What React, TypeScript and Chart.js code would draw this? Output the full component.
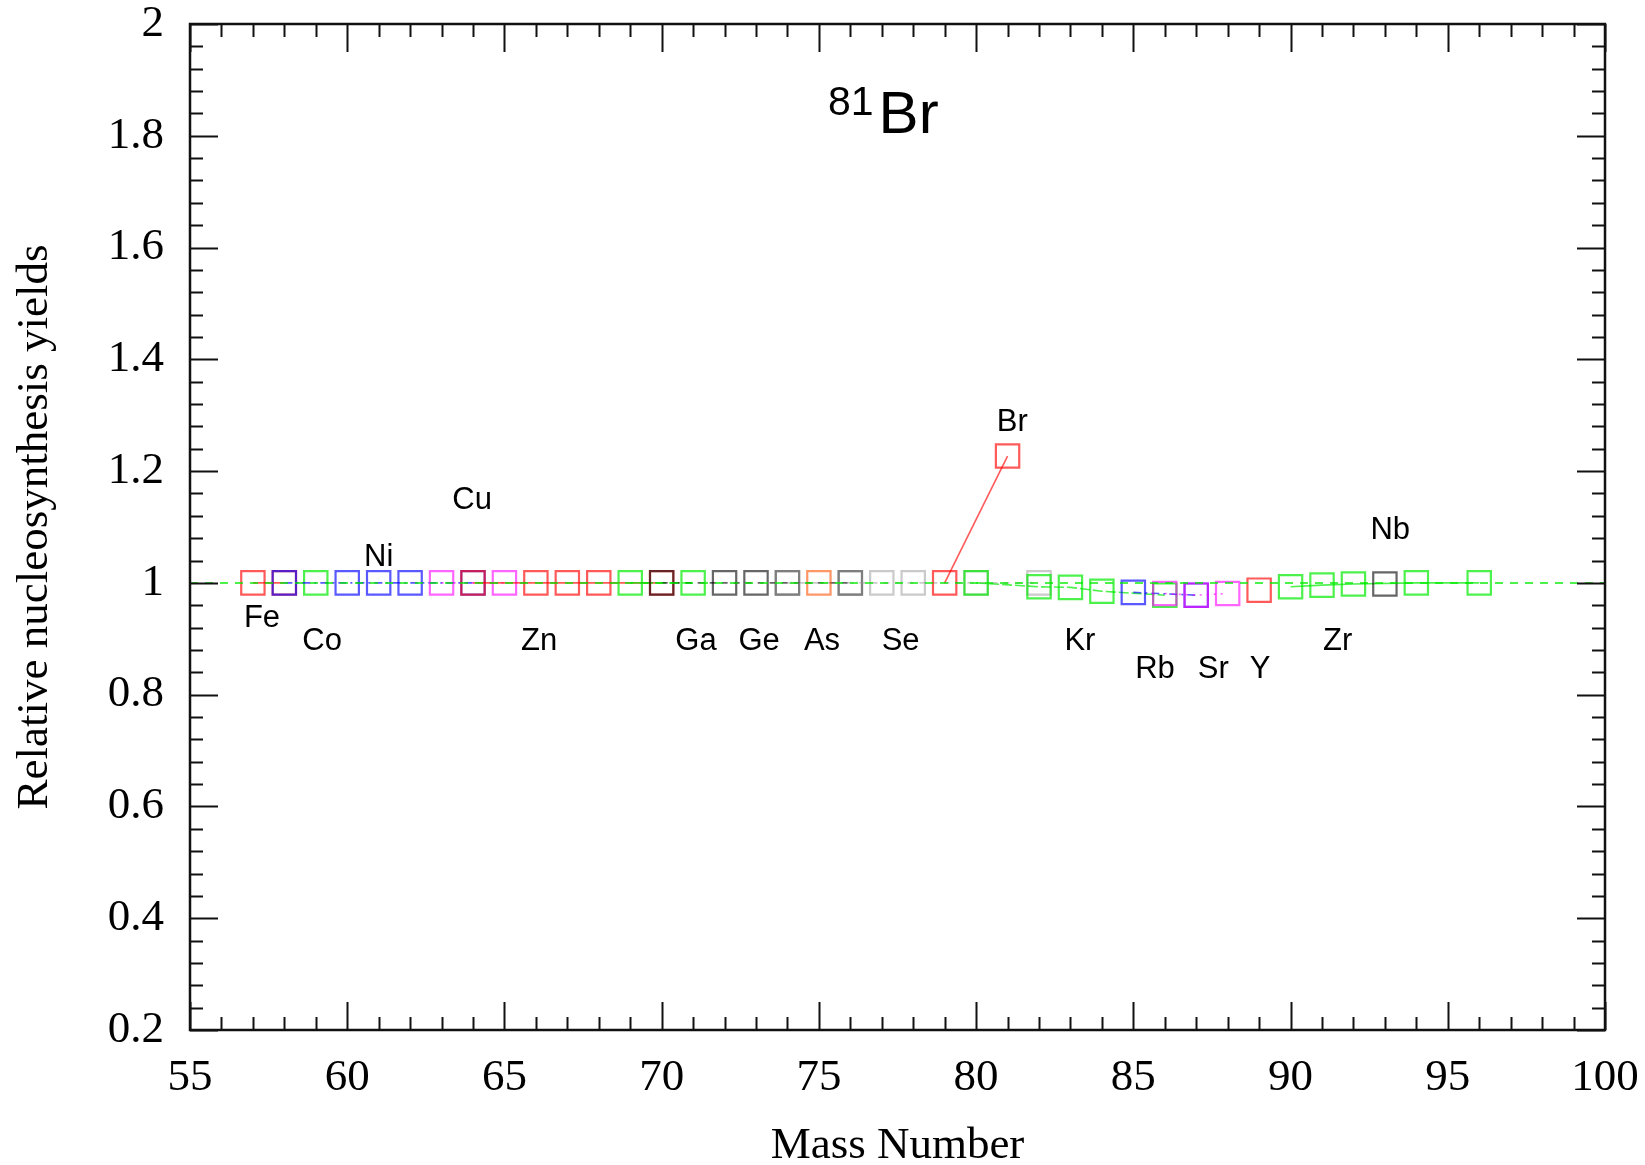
import React, { useEffect, useRef } from "react";
import { Chart, registerables } from "chart.js";

Chart.register(...registerables);

// ---------- data ----------
const lineY = 1.0;

const feMass = [57, 58];
const feYield = [1.0, 1.0];
const coMass = [59];
const coYield = [1.0];
const niMass = [58, 60, 61, 62, 64];
const niYield = [1.0, 1.0, 1.0, 1.0, 1.0];
const cuMass = [63, 65];
const cuYield = [1.0, 1.0];
const znMass = [64, 66, 67, 68, 70];
const znYield = [1.0, 1.0, 1.0, 1.0, 1.0];
const gaMass = [69, 71];
const gaYield = [1.0, 1.0];
const geMass = [70, 72, 73, 74, 76];
const geYield = [1.0, 1.0, 1.0, 1.0, 1.0];
const asMass = [75];
const asYield = [1.0];
const seMass = [74, 76, 77, 78, 80, 82];
const seYield = [1.0, 1.0, 1.0, 1.0, 1.0, 1.0];
const brMass = [79, 81];
const brYield = [1.0, 1.227];
const krMass = [80, 82, 83, 84, 86];
const krYield = [1.0, 0.993, 0.992, 0.985, 0.978];
const rbMass = [85, 87];
const rbYield = [0.983, 0.978];
const srMass = [86, 87, 88];
const srYield = [0.981, 0.978, 0.981];
const yMass = [89];
const yYield = [0.987];
const zrMass = [90, 91, 92, 94, 96];
const zrYield = [0.993, 0.996, 0.998, 1.0, 1.0];
const nbMass = [93];
const nbYield = [0.998];

const labelNames = ["Fe", "Co", "Ni", "Cu", "Zn", "Ga", "Ge", "As", "Se", "Br", "Kr", "Rb", "Sr", "Y", "Zr", "Nb"];
const labelX = [57.29, 59.2, 61.0, 63.97, 66.1, 71.09, 73.1, 75.1, 77.6, 81.15, 83.3, 85.69, 87.54, 89.03, 91.5, 93.17];
const labelY = [0.936, 0.895, 1.045, 1.147, 0.895, 0.895, 0.895, 0.895, 0.895, 1.287, 0.895, 0.846, 0.846, 0.846, 0.896, 1.094];

const titleIsotope = "81";
const titleElement = "Br";
const titleX = 75.29;
const titleY = 1.805;
const xTitle = "Mass Number";
const yTitle = "Relative nucleosynthesis yields";

const xMin = 55, xMax = 100, yMin = 0.2, yMax = 2;

// ---------- styles ----------
const RED = "rgba(255,0,0,0.65)";
const GREEN = "rgba(0,235,0,0.7)";
const BLUE = "rgba(0,0,255,0.65)";
const MAGENTA = "rgba(255,0,255,0.6)";
const BLACK = "rgba(0,0,0,0.6)";
const GRAY = "rgba(150,150,150,0.5)";
const ORANGE = "rgba(255,80,0,0.6)";
const SERIF = "'Liberation Serif', 'Times New Roman', serif";
const SANS = "'Liberation Sans', Arial, sans-serif";

const pts = (xs: number[], ys: number[]) => xs.map((x, i) => ({ x, y: ys[i] }));

function el(label: string, xs: number[], ys: number[], color: string, dash: number[]) {
  return {
    label,
    data: pts(xs, ys),
    showLine: true,
    borderColor: color,
    borderWidth: 1.6,
    borderDash: dash,
    pointStyle: "rect",
    pointRadius: 16.5,
    pointHoverRadius: 16.5,
    pointBorderWidth: 2.2,
    pointBorderColor: color,
    pointBackgroundColor: "rgba(0,0,0,0)",
    fill: false,
    tension: 0,
  };
}

const frameTicks = {
  id: "frameTicks",
  afterDatasetsDraw(chart: any) {
    const { ctx, chartArea: a, scales } = chart;
    const xs = scales.x, ys = scales.y;
    ctx.save();
    ctx.strokeStyle = "#111";
    ctx.lineWidth = 2;
    ctx.beginPath();
    for (let v = xMin; v <= xMax + 1e-9; v += 1) {
      const len = Math.round(v) % 5 === 0 ? 28 : 13;
      const px = Math.round(xs.getPixelForValue(v)) + 0.5;
      ctx.moveTo(px, a.bottom);
      ctx.lineTo(px, a.bottom - len);
      ctx.moveTo(px, a.top);
      ctx.lineTo(px, a.top + len);
    }
    for (let i = 0; i <= 45; i++) {
      const v = yMin + i * 0.04;
      const len = i % 5 === 0 ? 28 : 13;
      const py = Math.round(ys.getPixelForValue(v)) + 0.5;
      ctx.moveTo(a.left, py);
      ctx.lineTo(a.left + len, py);
      ctx.moveTo(a.right, py);
      ctx.lineTo(a.right - len, py);
    }
    ctx.stroke();
    ctx.lineWidth = 2.5;
    ctx.strokeRect(a.left, a.top, a.right - a.left, a.bottom - a.top);

    // element labels
    ctx.fillStyle = "#000";
    ctx.font = "31px " + SANS;
    ctx.textAlign = "center";
    ctx.textBaseline = "middle";
    labelNames.forEach((n, i) => {
      ctx.fillText(n, xs.getPixelForValue(labelX[i]), ys.getPixelForValue(labelY[i]));
    });

    // title with superscript
    const tx = xs.getPixelForValue(titleX);
    const base = ys.getPixelForValue(titleY);
    ctx.textBaseline = "alphabetic";
    ctx.textAlign = "left";
    ctx.font = "41px " + SANS;
    const w81 = ctx.measureText(titleIsotope).width;
    ctx.fillText(titleIsotope, tx, base - 18);
    ctx.font = "60px " + SANS;
    ctx.fillText(titleElement, tx + w81 + 5, base);

    // axis titles
    ctx.font = "45px " + SERIF;
    ctx.textAlign = "center";
    ctx.textBaseline = "alphabetic";
    ctx.fillText(xTitle, (a.left + a.right) / 2, a.bottom + 128);
    ctx.translate(a.left - 143, (a.top + a.bottom) / 2);
    ctx.rotate(-Math.PI / 2);
    ctx.fillText(yTitle, 0, 0);
    ctx.restore();
  },
};

export default function App() {
  const ref = useRef<HTMLCanvasElement | null>(null);
  useEffect(() => {
    if (!ref.current) return;
    const chart = new Chart(ref.current, {
      type: "scatter",
      data: {
        datasets: [
          {
            label: "ref",
            data: [{ x: xMin, y: lineY }, { x: xMax, y: lineY }],
            showLine: true,
            borderColor: GREEN,
            borderWidth: 2,
            borderDash: [8, 7],
            pointRadius: 0,
            fill: false,
          } as any,
          el("Br", brMass, brYield, RED, []),
          el("Nb", nbMass, nbYield, BLACK, []),
          el("Zr", zrMass, zrYield, GREEN, []),
          el("Y", yMass, yYield, RED, []),
          el("Sr", srMass, srYield, MAGENTA, [2, 5]),
          el("Rb", rbMass, rbYield, BLUE, [8, 4, 2, 4]),
          el("Kr", krMass, krYield, GREEN, [10, 3]),
          el("Se", seMass, seYield, GRAY, [6, 6]),
          el("As", asMass, asYield, ORANGE, []),
          el("Ge", geMass, geYield, BLACK, [6, 6]),
          el("Ga", gaMass, gaYield, GREEN, [10, 3]),
          el("Zn", znMass, znYield, RED, []),
          el("Cu", cuMass, cuYield, MAGENTA, [2, 4]),
          el("Ni", niMass, niYield, BLUE, [8, 4, 2, 4]),
          el("Co", coMass, coYield, GREEN, []),
          el("Fe", feMass, feYield, RED, []),
        ] as any,
      },
      options: {
        animation: false,
        responsive: false,
        devicePixelRatio: 1,
        layout: { padding: { top: 24, right: 40, left: 0, bottom: 0 } },
        plugins: { legend: { display: false }, tooltip: { enabled: false }, title: { display: false } },
        scales: {
          x: {
            type: "linear",
            min: xMin,
            max: xMax,
            grid: { display: false },
            border: { display: false },
            ticks: { stepSize: 5, color: "#000", font: { family: SERIF, size: 45 }, padding: 13, maxRotation: 0 },
            title: { display: false },
            afterFit: (s: any) => { s.height = 135; s.paddingLeft = 0; s.paddingRight = 0; },
          },
          y: {
            type: "linear",
            min: yMin,
            max: yMax,
            grid: { display: false },
            border: { display: false },
            ticks: {
              stepSize: 0.2,
              color: "#000",
              font: { family: SERIF, size: 45 },
              padding: 18,
              callback: (v: any) => String(Math.round(Number(v) * 10) / 10),
            },
            title: { display: false },
            afterFit: (s: any) => { s.width = 190; s.paddingTop = 0; s.paddingBottom = 0; },
          },
        },
      } as any,
      plugins: [frameTicks],
    });
    return () => chart.destroy();
  }, []);
  return (
    <div style={{ position: "absolute", left: 0, top: 0, width: 1645, height: 1165, background: "#fff" }}>
      <canvas ref={ref} width={1645} height={1165} />
    </div>
  );
}
